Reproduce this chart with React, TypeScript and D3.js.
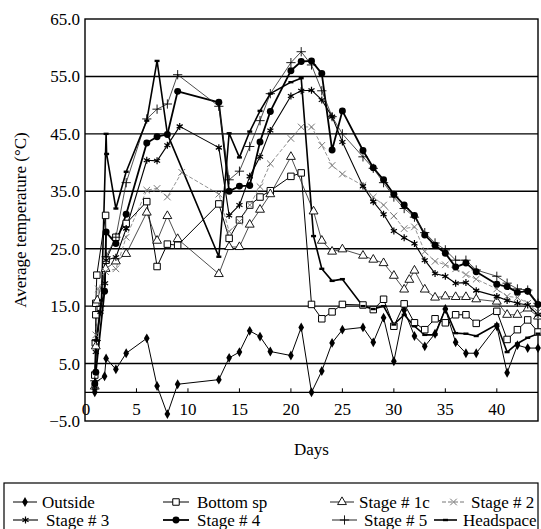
import * as d3 from "d3";

type Pt = [number, number];

// [day, average temperature °C]
const outside: Pt[] = [
  [0.95, 0], [1.0, 1.7], [1.9, 2.8], [2.05, 5.9], [3, 4], [4, 6.8], [6, 9.4], [7, 1.1], [8, -3.8],
  [9, 1.4], [13, 2.2], [14, 6], [15, 7], [16, 10.7], [17, 9.7], [18, 7.1], [20, 6.4], [21, 11.3],
  [22, 0], [23, 3.7], [24, 8.6], [25, 10.9], [27, 11.3], [28, 8.7], [29, 13], [30, 5.4], [31, 14.3],
  [32, 9.8], [33, 8], [34, 10.2], [35, 14.5], [36, 8.7], [37, 6.8], [38, 6.8], [40, 11.5], [41, 3.4],
  [42, 8.2], [43, 7.7], [44, 7.7],
];

const bottomSp: Pt[] = [
  [0.95, 3], [1.0, 8.6], [1.05, 13.5], [1.05, 15.5], [1.15, 20.4], [2, 30.8], [2.05, 23], [3, 27],
  [4, 29.4], [6, 33.2], [7, 21.9], [8, 25.8], [9, 25.6], [13, 32.8], [14, 26.8], [15, 30], [16, 32.6],
  [17, 34], [18, 35.1], [20, 37.6], [21, 38.2], [22, 15.3], [23, 12.8], [24, 14], [25, 15.3],
  [27, 15.2], [28, 14.4], [29, 16.2], [30, 11.5], [31, 15.4], [32, 12.1], [33, 10.9], [34, 12.8],
  [35, 12.1], [36, 13.5], [37, 13.5], [38, 12], [40, 14.1], [41, 9.2], [42, 10.9], [43, 12.6], [44, 10.5],
];

const stage1c: Pt[] = [
  [0.95, 1], [1.05, 8], [1.2, 16], [2, 21.5], [3, 22.8], [4, 24.1], [6, 31.3], [7, 26.4], [8, 30.7],
  [9, 26.7], [13, 20.6], [14, 25.3], [15, 25.3], [16, 29.2], [17, 31.8], [18, 34.5], [20, 41],
  [22.2, 31.5], [23, 26.4], [24, 24.5], [25, 24.9], [27, 23.8], [28, 23.1], [29, 22.5], [30, 20.3],
  [31, 17.9], [31.5, 19.6], [32, 21.2], [33, 17.9], [34, 16.5], [35, 16.7], [36, 16.6], [37, 16.6],
  [38, 16.2], [40, 15.8], [41, 13.5], [42, 13.5], [43, 14.6], [44, 13.2],
];

const stage2: Pt[] = [
  [0.95, 1.5], [1.05, 10], [1.3, 18], [2, 21], [3, 21.5], [4, 27], [6, 35.2], [7, 35.5], [8, 34],
  [9.4, 38.3], [13, 34.5], [14, 28], [15, 29.7], [16, 32.6], [17, 35.8], [18, 39.8], [20, 44.2],
  [21, 46.2], [22, 46.2], [23, 43], [24, 39.5], [25, 38], [27, 36], [28, 34], [29, 32.6], [30, 30.7],
  [31, 28.5], [32, 28.8], [33, 24.5], [34, 22.8], [35, 22.2], [36, 21.5], [37, 20.5], [38, 19.7],
  [40, 18], [41, 16.7], [42, 16.5], [43, 15.5], [44, 14],
];

const stage3: Pt[] = [
  [0.95, 1], [1.05, 7], [1.5, 14], [1.95, 19], [2.05, 23], [3, 23.5], [4, 28.5], [6, 40.4], [7, 40.3],
  [8, 43], [9.2, 46.3], [13, 42.6], [14, 30.8], [15, 32.6], [16, 37.6], [17, 41], [18, 45.6], [20, 51.6],
  [21, 52.5], [22, 52.6], [23, 50.9], [24, 48], [25, 43.6], [27, 35.9], [28, 33.2], [29, 31], [30, 28.1],
  [31, 26.9], [32, 25.9], [33, 23], [34, 20.7], [35, 20.2], [36, 19], [37, 19.1], [38, 17.7], [40, 16.7],
  [41, 16], [42, 15.5], [43, 15.2], [44, 13.5],
];

const stage4: Pt[] = [
  [0.95, 1.5], [1.05, 3.5], [1.9, 17.6], [2.05, 27.9], [3, 25.9], [4, 31], [6, 43.4], [7, 44.5],
  [8, 44.9], [9, 52.4], [13, 50.5], [14, 35], [15, 35.9], [16, 36], [17, 43.6], [18, 48.9], [20, 56],
  [21, 57.6], [22, 57.7], [23, 55.5], [24, 42.2], [25, 49], [27, 42.1], [28, 39.1], [29, 37], [30, 34.5],
  [31, 32.6], [32, 30.8], [33, 27.4], [34, 25.6], [35, 24.2], [36, 21.8], [37, 22.5], [38, 21], [40, 18.8],
  [41, 18.4], [42, 17.4], [43, 17.6], [44, 15.3],
];

const stage5: Pt[] = [
  [0.95, 2], [1.1, 9], [1.5, 15], [2.05, 23.6], [3, 27], [4, 36.5], [6, 47.6], [7, 49.3], [8, 50.2],
  [9, 55.3], [13, 49.8], [14, 37], [15, 38.5], [16, 42.8], [17, 47.3], [18, 52], [20, 57.4], [21, 59.3],
  [22, 57], [23, 52.5], [24, 48], [25, 45], [27, 41], [28, 39], [29, 36.5], [30, 34], [31, 32], [32, 30.5],
  [33, 27.8], [34, 26], [35, 24.8], [36, 23], [37, 23], [38, 21.3], [40, 20.2], [41, 19], [42, 18],
  [43, 17.8], [44, 15.5],
];

const headspace: Pt[] = [
  [0.95, 0.5], [1.1, 9], [1.6, 16], [2.05, 45], [2.1, 41.5], [3, 32], [4, 38.4], [6, 47.3], [7, 57.7],
  [8, 45], [13, 23.6], [14, 45.1], [15, 40.9], [16, 45.4], [17, 49], [18, 52], [20, 54], [21, 54.7],
  [22.2, 27.2], [23, 21.5], [24, 19.4], [25, 19.7], [27, 15], [28, 14.5], [29, 15], [30, 11.8],
  [31, 13.5], [32, 11.5], [33, 10], [34, 10], [35, 14.5], [36, 10.3], [37, 10.2], [38, 9.8],
  [40, 11.8], [41, 7], [42, 8.5], [43, 9.5], [44, 10.2],
];

const yTicks = [-5, 5, 15, 25, 35, 45, 55, 65];
const gridValues = [5, 15, 25, 35, 45, 55];
const xTicks = [0, 5, 10, 15, 20, 25, 30, 35, 40];

type Marker = "diamond" | "square" | "triangle" | "times" | "asterisk" | "circle" | "plus" | "dash";

interface Series {
  name: string;
  data: Pt[];
  marker: Marker;
  stroke: string;
  width: number;
  dash?: string;
}

const series: Series[] = [
  { name: "Outside", data: outside, marker: "diamond", stroke: "#000", width: 1 },
  { name: "Bottom sp", data: bottomSp, marker: "square", stroke: "#000", width: 1 },
  { name: "Stage # 1c", data: stage1c, marker: "triangle", stroke: "#222", width: 0.8 },
  { name: "Stage # 2", data: stage2, marker: "times", stroke: "#777", width: 0.8, dash: "4,2" },
  { name: "Stage # 3", data: stage3, marker: "asterisk", stroke: "#000", width: 1.1 },
  { name: "Stage # 4", data: stage4, marker: "circle", stroke: "#000", width: 1.8 },
  { name: "Stage # 5", data: stage5, marker: "plus", stroke: "#222", width: 0.8 },
  { name: "Headspace", data: headspace, marker: "dash", stroke: "#000", width: 1.6 },
];

// legend slots: [line x0, line x1, text x, row]
const legendSlots: [number, number, number, number][] = [
  [13, 37, 42, 0], [163, 189, 197, 0], [330, 354, 359, 0], [442, 465, 471, 0],
  [13, 38, 46, 1], [163, 189, 197, 1], [332, 357, 364, 1], [434, 457, 463, 1],
];

const W = 541;
const H = 529;
const left = 85;
const right = 538;
const top = 19;
const bottom = 421;

function MarkerShape({ kind, x, y, color }: { kind: Marker; x: number; y: number; color: string }) {
  const t = `translate(${x},${y})`;
  switch (kind) {
    case "diamond":
      return <path transform={t} d={d3.symbol(d3.symbolDiamond, 28)()!} fill="#000" />;
    case "square":
      return <path transform={t} d={d3.symbol(d3.symbolSquare, 42)()!} fill="#fff" stroke="#000" strokeWidth={1} />;
    case "triangle":
      return <path transform={t} d={d3.symbol(d3.symbolTriangle, 34)()!} fill="#fff" stroke="#000" strokeWidth={0.9} />;
    case "times":
      return <path transform={t} d={d3.symbol(d3.symbolTimes, 30)()!} fill="none" stroke={color} strokeWidth={1} />;
    case "asterisk":
      return <path transform={t} d={d3.symbol(d3.symbolAsterisk, 34)()!} fill="none" stroke="#000" strokeWidth={1.2} />;
    case "circle":
      return <path transform={t} d={d3.symbol(d3.symbolCircle, 38)()!} fill="#000" />;
    case "plus":
      return <path transform={t} d={d3.symbol(d3.symbolPlus, 30)()!} fill="none" stroke="#000" strokeWidth={0.9} />;
    case "dash":
      return <line x1={x - 2.5} x2={x + 2.5} y1={y} y2={y} stroke="#000" strokeWidth={2.4} />;
  }
}

export default function App() {
  const x = d3.scaleLinear().domain([0, 44]).range([left, right]);
  const y = d3.scaleLinear().domain([-5, 65]).range([bottom, top]);
  const line = d3
    .line<Pt>()
    .x((d) => x(d[0]))
    .y((d) => y(d[1]));

  const font = "'Liberation Serif', 'Times New Roman', serif";

  return (
    <div style={{ position: "absolute", left: 0, top: 0 }}>
      <svg width={W} height={H} style={{ display: "block", background: "#fff" }} fontFamily={font}>
        {/* grid lines */}
        {gridValues.map((v) => (
          <line key={v} x1={left} x2={right} y1={y(v)} y2={y(v)} stroke="#000" strokeWidth={1.4} />
        ))}
        <line x1={left} x2={right} y1={y(0)} y2={y(0)} stroke="#000" strokeWidth={1.2} />
        {xTicks.slice(1).map((t) => (
          <line key={t} x1={x(t)} x2={x(t)} y1={y(0)} y2={y(0) - 4} stroke="#000" strokeWidth={1} />
        ))}
        {/* frame */}
        <rect x={left} y={top} width={right - left} height={bottom - top} fill="none" stroke="#000" strokeWidth={1.4} />

        {/* series lines */}
        {series.map((s) => (
          <path
            key={s.name}
            d={line(s.data)!}
            fill="none"
            stroke={s.stroke}
            strokeWidth={s.width}
            strokeDasharray={s.dash}
            strokeLinejoin="round"
          />
        ))}
        {/* markers */}
        {series.map((s) =>
          s.data.map((d, i) => (
            <MarkerShape key={s.name + i} kind={s.marker} x={x(d[0])} y={y(d[1])} color={s.stroke} />
          ))
        )}

        {/* y tick labels */}
        {yTicks.map((t) => (
          <text key={t} x={80} y={y(t)} dy="0.35em" textAnchor="end" fontSize={17}>
            {t < 0 ? `\u2212${Math.abs(t).toFixed(1)}` : t.toFixed(1)}
          </text>
        ))}
        {/* x tick labels */}
        {xTicks.map((t) => (
          <text key={t} x={t === 0 ? x(t) + 1 : x(t)} y={415} textAnchor="middle" fontSize={17}>
            {t}
          </text>
        ))}

        {/* axis titles */}
        <text transform={`translate(26,220) rotate(-90)`} textAnchor="middle" fontSize={17}>
          Average temperature (°C)
        </text>
        <text x={(left + right) / 2} y={455} textAnchor="middle" fontSize={17}>
          Days
        </text>

        {/* legend */}
        <rect x={4} y={483} width={534} height={60} fill="none" stroke="#000" strokeWidth={1.2} />
        {series.map((s, i) => {
          const [x0, x1, tx, row] = legendSlots[i];
          const ly = row === 0 ? 502 : 520;
          return (
            <g key={s.name}>
              <line x1={x0} x2={x1} y1={ly} y2={ly} stroke={s.stroke} strokeWidth={Math.max(1, s.width)} strokeDasharray={s.dash} />
              <MarkerShape kind={s.marker} x={(x0 + x1) / 2} y={ly} color={s.stroke} />
              <text x={tx} y={ly} dy="0.33em" fontSize={17}>
                {s.name}
              </text>
            </g>
          );
        })}
      </svg>
    </div>
  );
}
